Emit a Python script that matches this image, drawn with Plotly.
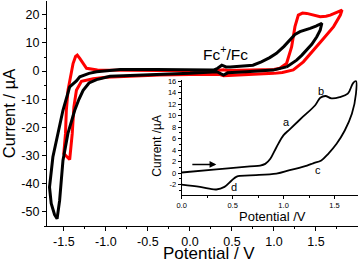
import plotly.graph_objects as go

# ---- main CV data (Potential / V, Current / uA) ----
red_v = [1.0, 0.67, 0.45, 0.40, 0.36, 0.2, 0.0, -0.36, -0.75, -1.0, -1.15, -1.25, -1.29, -1.35,
         -1.38, -1.40, -1.42, -1.43, -1.46, -1.50, -1.48, -1.47, -1.45, -1.42, -1.39, -1.36, -1.34,
         -1.31, -1.27, -1.23, -1.1, -0.9, -0.5, 0.0, 0.3, 0.40, 0.45, 0.7, 1.0, 1.07, 1.15, 1.21,
         1.25, 1.29, 1.34, 1.39, 1.47, 1.55, 1.62, 1.67, 1.74, 1.81, 1.79, 1.71, 1.59, 1.47, 1.35,
         1.23, 1.1, 1.0]
red_i = [-0.8, -1.1, -1.3, -1.6, -1.2, -1.1, -1.2, -1.4, -1.8, -2.2, -2.7, -3.2, -3.6, -6.8,
         -12.7, -22.2, -30.5, -31.4, -30.5, -29.3, -22.2, -13.9, -6.8, -1.4, 2.7, 5.2, 5.7,
         4.5, 2.5, 1.0, 0.4, 0.3, 0.2, 0.1, 0.1, 0.5, 0.2, 0.3, 0.6, 1.0, 2.7, 8.6,
         15.8, 19.9, 20.6, 20.5, 19.8, 19.3, 19.5, 19.9, 20.8, 21.7, 19.9, 15.8, 11.6, 7.5, 3.3,
         0.4, -0.5, -0.8]

black_v = [1.15, 0.99, 0.67, 0.45, 0.40, 0.35, 0.32, 0.0, -0.36, -0.95, -1.11, -1.2, -1.27, -1.32,
           -1.37, -1.45, -1.51, -1.55, -1.58, -1.61, -1.65, -1.67, -1.63, -1.57, -1.51, -1.43,
           -1.35, -1.31, -1.2, -1.11, -0.83, -0.4, 0.0, 0.28, 0.33, 0.38, 0.43, 0.48, 0.75, 0.85,
           0.95, 1.03, 1.12, 1.19, 1.25, 1.31, 1.37, 1.43, 1.50, 1.57, 1.55, 1.51, 1.45, 1.39,
           1.33, 1.27, 1.15]
black_i = [1.5, 0.36, -0.2, -0.6, -1.4, -0.6, -0.2, -0.8, -1.1, -1.8, -3.0, -4.2, -6.8, -10.0,
           -13.9, -22.0, -31.7, -46.0, -52.4, -51.0, -47.0, -41.2, -30.5, -22.2, -13.9, -5.6,
           -3.5, -2.0, -0.8, -0.2, 0.6, 0.6, 0.4, 0.36, 1.0, 2.1, 1.5, 1.5, 2.1, 3.3,
           4.8, 6.3, 8.8, 11.0, 13.0, 14.0, 14.5, 15.2, 16.0, 17.0, 14.5, 12.2, 9.5, 7.5,
           5.6, 3.9, 1.5]

# ---- inset data ----
ins_v = [0.0, 0.34, 0.67, 0.77, 0.82, 0.87, 0.93, 1.0, 1.06, 1.19, 1.31, 1.36, 1.41, 1.47, 1.55,
         1.63, 1.68, 1.71, 1.71, 1.67, 1.60, 1.52, 1.44, 1.37, 1.29, 1.23, 1.06, 0.93, 0.67, 0.54,
         0.49, 0.42, 0.34, 0.18, 0.0]
ins_i = [0.1, 0.64, 1.17, 1.3, 1.6, 2.5, 4.5, 6.6, 7.6, 9.8, 11.8, 13.1, 13.4, 13.0, 13.2,
         13.8, 15.6, 16.0, 13.8, 10.3, 7.4, 5.1, 3.4, 2.2, 1.7, 1.3, 0.5, -0.1, -0.4, -0.6,
         -1.3, -2.4, -2.85, -2.4, -2.0]

main_xticks = [-1.5, -1.0, -0.5, 0.0, 0.5, 1.0, 1.5]
main_xtext = ["-1.5", "-1.0", "-0.5", "0.0", "0.5", "1.0", "1.5"]
main_yticks = [-50, -40, -30, -20, -10, 0, 10, 20]
main_ytext = ["-50", "-40", "-30", "-20", "-10", "0", "10", "20"]
ins_xticks = [0.0, 0.5, 1.0, 1.5]
ins_xtext = ["0.0", "0.5", "1.0", "1.5"]
ins_yticks = [-2, 0, 2, 4, 6, 8, 10, 12, 14, 16]
ins_ytext = ["-2", "0", "2", "4", "6", "8", "10", "12", "14", "16"]

FONT = "Liberation Sans, Arial, sans-serif"

fig = go.Figure()
fig.add_trace(go.Scatter(x=red_v, y=red_i, mode="lines", line=dict(color="#ff0000", width=3),
                         xaxis="x", yaxis="y", showlegend=False))
fig.add_trace(go.Scatter(x=black_v, y=black_i, mode="lines", line=dict(color="black", width=3),
                         xaxis="x", yaxis="y", showlegend=False))
fig.add_trace(go.Scatter(x=ins_v, y=ins_i, mode="lines", line=dict(color="black", width=1.8, shape="spline"),
                         xaxis="x2", yaxis="y2", showlegend=False))

axis_common = dict(showgrid=False, zeroline=False, showline=True, linecolor="black",
                   ticks="outside", tickcolor="black", automargin=False)

fig.update_layout(
    template="none",
    width=358, height=263,
    margin=dict(l=47, r=0, t=1, b=37),
    paper_bgcolor="white", plot_bgcolor="rgba(0,0,0,0)",
    font=dict(family=FONT, color="black"),
    xaxis=dict(**axis_common, range=[-1.70, 2.0], tickvals=main_xticks, ticktext=main_xtext,
               linewidth=1.3, ticklen=4, tickwidth=1.2,
               minor=dict(ticks="outside", ticklen=2, dtick=0.25, tick0=0, tickcolor="black"),
               tickfont=dict(size=12.5)),
    yaxis=dict(**axis_common, range=[-55, 24.9], tickvals=main_yticks, ticktext=main_ytext,
               linewidth=1.3, ticklen=4, tickwidth=1.2,
               minor=dict(ticks="outside", ticklen=2, dtick=5, tick0=0, tickcolor="black"),
               tickfont=dict(size=12.5),
               title=dict(text="Current / µA", font=dict(size=16.5), standoff=4)),
    xaxis2=dict(**axis_common, domain=[0.433, 1.0], anchor="y2", range=[0, 1.73],
                tickvals=ins_xticks, ticktext=ins_xtext, linewidth=0.8, ticklen=3, tickwidth=0.8,
                minor=dict(ticks="outside", ticklen=2, dtick=0.25, tick0=0, tickcolor="black"),
                tickfont=dict(size=7.5)),
    yaxis2=dict(**axis_common, domain=[0.136, 0.648], anchor="x2", range=[-3.88, 16.15],
                tickvals=ins_yticks, ticktext=ins_ytext, linewidth=0.8, ticklen=3, tickwidth=0.8,
                minor=dict(ticks="outside", ticklen=2, dtick=1, tick0=0, tickcolor="black"),
                tickfont=dict(size=7.5)),
)

# main x-axis title (placed as annotation for exact position)
fig.add_annotation(x=0.52, y=-0.072, xref="paper", yref="paper", text="Potential / V",
                   showarrow=False, font=dict(size=17), xanchor="center", yanchor="top")
# inset axis titles
fig.add_annotation(x=0.725, y=0.043, xref="paper", yref="paper", text="Potential /V",
                   showarrow=False, font=dict(size=13), xanchor="center", yanchor="middle")
fig.add_annotation(x=0.353, y=0.356, xref="paper", yref="paper", text="Current /µA",
                   showarrow=False, font=dict(size=12), textangle=-90,
                   xanchor="center", yanchor="middle")

fig.add_annotation(x=0.42, y=6.4, xref="x", yref="y", text="Fc<sup>+</sup>/Fc", showarrow=False,
                   font=dict(size=15.5))
for lbl, lx, ly in [("a", 1.03, 8.9), ("b", 1.37, 14.2), ("c", 1.34, 0.6), ("d", 0.51, -2.5)]:
    fig.add_annotation(x=lx, y=ly, xref="x2", yref="y2", text=lbl, showarrow=False,
                       font=dict(size=11))
fig.add_annotation(x=0.34, y=1.5, ax=0.09, ay=1.5, xref="x2", yref="y2", axref="x2", ayref="y2",
                   text="", showarrow=True, arrowhead=2, arrowsize=0.9, arrowwidth=1.5,
                   arrowcolor="black")

fig.write_html("out.html", config={"displayModeBar": False},
               post_script="document.body.style.margin='0px';")
